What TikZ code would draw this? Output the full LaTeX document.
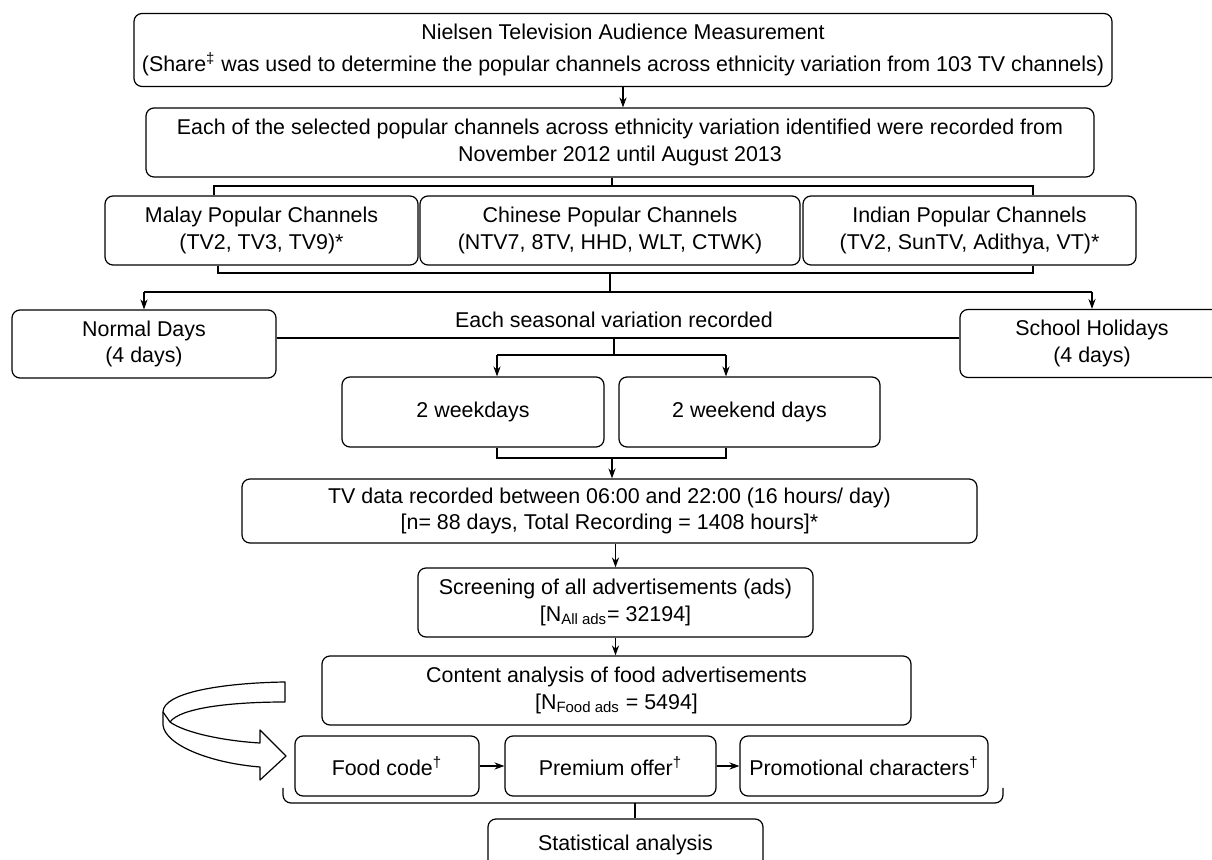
\documentclass[tikz,border=0pt]{standalone}
\usepackage{fontspec}
\setmainfont{Liberation Sans}
\usetikzlibrary{arrows.meta}
\begin{document}
\begin{tikzpicture}[x=0.5pt,y=-0.5pt,
  box/.style={draw, rounded corners=4pt, line width=0.6pt, align=center, inner sep=0pt,
    font=\fontsize{10.7}{13.3}\selectfont},
  lbl/.style={align=center, inner sep=0pt, font=\fontsize{10.7}{13.3}\selectfont},
  link/.style={line width=0.6pt},
  arr/.style={line width=0.6pt, -{Stealth[length=5pt,width=3.6pt]}},
]
\clip (0,0) rectangle (1212,860);
\fill[white] (0,0) rectangle (1212,860);

% boxes
\node[box, minimum width=489pt, minimum height=36.5pt] (nielsen) at (623,50)
  {Nielsen Television Audience Measurement\\[3pt]
   (Share\textsuperscript{‡} was used to determine the popular channels across ethnicity variation from 103 TV channels)};
\node[box, minimum width=474pt, minimum height=34.5pt] (recorded) at (620,142.5)
  {Each of the selected popular channels across ethnicity variation identified were recorded from\\
   November 2012 until August 2013};
\node[box, minimum width=156.5pt, minimum height=34.5pt] (malay) at (261.5,230.5)
  {Malay Popular Channels\\(TV2, TV3, TV9)*};
\node[box, minimum width=190pt, minimum height=34.5pt] (chinese) at (610,230.5)
  {Chinese Popular Channels\\(NTV7, 8TV, HHD, WLT, CTWK)};
\node[box, minimum width=166.5pt, minimum height=34.5pt] (indian) at (969.5,230.5)
  {Indian Popular Channels\\(TV2, SunTV, Adithya, VT)*};
\node[box, minimum width=132pt, minimum height=34pt] (normal) at (144,344)
  {Normal Days\\(4 days)};
\node[box, minimum width=132pt, minimum height=34pt] (school) at (1092,343.5)
  {School Holidays\\(4 days)};
\node[lbl] (season) at (614,320) {Each seasonal variation recorded};
\node[box, minimum width=131pt, minimum height=35pt] (weekdays) at (473,412) {2 weekdays};
\node[box, minimum width=130.5pt, minimum height=35pt] (weekend) at (749.5,412) {2 weekend days};
\node[box, minimum width=367.5pt, minimum height=32pt] (tvdata) at (609.5,511)
  {TV data recorded between 06:00 and 22:00 (16 hours/ day)\\
   {[}n= 88 days, Total Recording = 1408 hours{]}*};
\node[box, minimum width=197.5pt, minimum height=34.5pt] (screen) at (615.5,602.5)
  {Screening of all advertisements (ads)\\
   {[}N\textsubscript{All ads}= 32194{]}};
\node[box, minimum width=294.5pt, minimum height=34.5pt] (content) at (616.5,690.5)
  {Content analysis of food advertisements\\
   {[}N\textsubscript{Food ads} = 5494{]}};
\node[box, minimum width=92pt, minimum height=30pt] (food) at (387,766)
  {Food code\textsuperscript{†}};
\node[box, minimum width=105.5pt, minimum height=30pt] (premium) at (610.5,766)
  {Premium offer\textsuperscript{†}};
\node[box, minimum width=124pt, minimum height=30pt] (promo) at (864,766)
  {Promotional characters\textsuperscript{†}};
\node[box, minimum width=137.5pt, minimum height=30pt] (stat) at (625.5,849)
  {\raisebox{6pt}{Statistical analysis}};

% connectors
\draw[arr] (nielsen.south) -- (nielsen.south |- recorded.north);

\coordinate (tb) at (612,186);
\coordinate (tbL) at (214,186);
\coordinate (tbR) at (1033,186);
\draw[link] (recorded.south -| tb) -- (tb);
\draw[link] (tbL |- malay.north) -- (tbL) -- (tbR) -- (tbR |- indian.north);

\coordinate (bbL) at (218,273);
\coordinate (bbR) at (1033,273);
\coordinate (bb) at (610,273);
\coordinate (split) at (610,292);
\coordinate (splitL) at (144,292);
\coordinate (splitR) at (1092,292);
\draw[link] (bbL |- malay.south) -- (bbL) -- (bbR) -- (bbR |- indian.south);
\draw[link] (bb) -- (split);
\draw[link] (splitL) -- (splitR);
\draw[arr] (splitL) -- (normal.north);
\draw[arr] (splitR) -- (school.north);

\coordinate (sline) at (614,338);
\coordinate (sfork) at (614,355);
\coordinate (wdL) at (497,355);
\coordinate (wdR) at (726,355);
\draw[link] (normal.east |- sline) -- (school.west |- sline);
\draw[link] (sline) -- (sfork);
\draw[link] (wdL) -- (wdR);
\draw[arr] (wdL) -- (wdL |- weekdays.north);
\draw[arr] (wdR) -- (wdR |- weekend.north);

\coordinate (jL) at (497,458);
\coordinate (jR) at (726,458);
\coordinate (j) at (612,458);
\draw[link] (jL |- weekdays.south) -- (jL) -- (jR) -- (jR |- weekend.south);
\draw[arr] (j) -- (j |- tvdata.north);

\draw[arr] (tvdata.south -| screen.north) -- (screen.north);
\draw[arr] (screen.south) -- (screen.south |- content.north);
\draw[arr] (food.east) -- (premium.west);
\draw[arr] (premium.east) -- (promo.west);

\coordinate (brL) at (283,788);
\coordinate (brR) at (1003,788);
\coordinate (brC) at (635,803);
\draw[link, rounded corners=4pt] (brL) -- (283,803) -- (1003,803) -- (brR);
\draw[link] (brC) -- (brC |- stat.north);

% curved hollow arrow
\draw[line width=0.6pt, fill=white, line join=round]
  (285,682) .. controls (220,683) and (163,693) .. (163,712)
  -- (163,725)
  .. controls (165,745) and (210,763) .. (260,767)
  -- (260,780) -- (286,756) -- (260,730) -- (260,743)
  .. controls (225,741) and (185,733) .. (170,722)
  .. controls (180,708) and (230,702) .. (285,702)
  -- cycle;
\draw[line width=0.6pt] (163,712) -- (170,722);
\end{tikzpicture}
\end{document}
